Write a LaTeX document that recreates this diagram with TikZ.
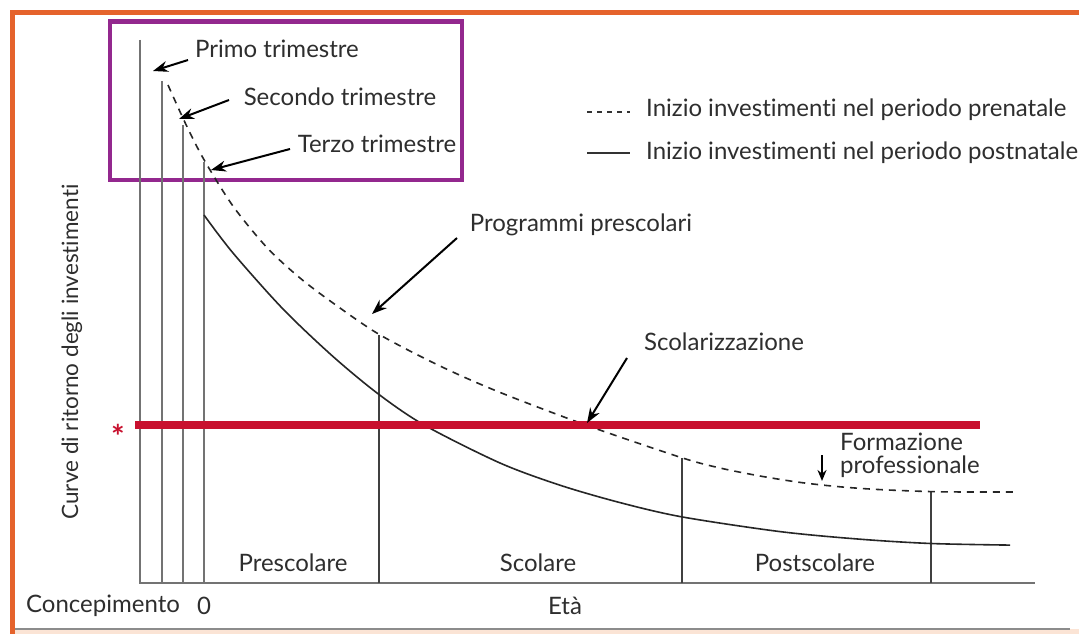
\documentclass[tikz,border=0pt]{standalone}
\usepackage{fontspec}
\setmainfont{Lato}[Ligatures=NoCommon]
\usetikzlibrary{arrows.meta}
\definecolor{frameorange}{HTML}{E5632C}
\definecolor{boxpurple}{HTML}{93288E}
\definecolor{levelred}{HTML}{C8102E}
\definecolor{stripfill}{HTML}{FBE4D5}
\definecolor{inkgray}{HTML}{2E2E2E}
\tikzset{
  lbl/.style={inner sep=0pt, text=inkgray, font=\fontsize{24}{27}\selectfont},
  guide/.style={draw=black!55, line width=1.6pt},
  divider/.style={draw=black!75, line width=1.1pt},
  postcurve/.style={draw=black!85, line width=1.6pt},
  precurve/.style={draw=black!85, line width=1.6pt, dash pattern=on 7pt off 6pt},
  pointer/.style={draw=black, line width=2pt, -{Stealth[length=15pt,width=11pt]}},
  smallpointer/.style={draw=black, line width=2pt, -{Stealth[length=11pt,width=9pt]}}
}
\begin{document}
\begin{tikzpicture}[x=1pt,y=-1pt]
\useasboundingbox (0,0) rectangle (1079,634);
\fill[white] (0,0) rectangle (1079,634);

% outer frame and footer strip
\fill[stripfill] (12,629) rectangle (1079,634);
\draw[black!45, line width=1.5pt] (15,629) -- (1070,629);
\draw[frameorange, line width=5pt] (12.5,634) -- (12.5,12.5) -- (1079,12.5);

% highlight box around the trimesters
\draw[boxpurple, line width=4.5pt] (110,21.5) rectangle (462,180);

% axes
\coordinate (o) at (140,583);
\coordinate (ytop) at (140,40);
\coordinate (xend) at (1035,583);
\draw[guide] (ytop) -- (o) -- (xend);

% trimester and birth markers
\coordinate (t1b) at (162,583); \coordinate (t1t) at (162,81);
\coordinate (t2b) at (183,583); \coordinate (t2t) at (183,125);
\coordinate (t3b) at (204,583); \coordinate (t3t) at (204,162);
\draw[guide] (t1b) -- (t1t);
\draw[guide] (t2b) -- (t2t);
\draw[guide] (t3b) -- (t3t);

% stage dividers
\coordinate (d1b) at (379,583); \coordinate (d1t) at (379,335);
\coordinate (d2b) at (682,583); \coordinate (d2t) at (682,458);
\coordinate (d3b) at (931,583); \coordinate (d3t) at (931,492);
\draw[divider] (d1b) -- (d1t);
\draw[divider] (d2b) -- (d2t);
\draw[divider] (d3b) -- (d3t);

% return curves
\draw[precurve] plot[smooth, tension=0.5] coordinates {
  (168,85) (186,124.6) (204,159.7) (233,206.1) (267,247.6) (300,278)
  (333,303) (379,334.3) (440,366) (500,392.4) (588,425.8) (682,457.8)
  (720,468) (760,476) (800,482.4) (840,486.8) (880,489.6) (931,491.6)
  (970,492) (1015,492)};
\draw[postcurve] plot[smooth, tension=0.5] coordinates {
  (204,215) (233,253) (283,309) (333,356.5) (379,394.5) (425,425.5)
  (500,463) (560,485.2) (620,502.6) (682,516.9) (780,531.6) (860,539.2)
  (931,543.5) (1010,545.1)};

% cost of capital level
\coordinate (rl) at (135,425);
\coordinate (rr) at (980,425);
\draw[levelred, line width=8pt] (rl) -- (rr);
\node[lbl, text=levelred, anchor=base, font=\fontsize{32}{32}\bfseries] (star) at (118,448) {*};

% legend
\coordinate (lg1a) at (587,112); \coordinate (lg1b) at (630,112);
\coordinate (lg2a) at (587,153); \coordinate (lg2b) at (630,153);
\draw[black!80, line width=1.3pt, dash pattern=on 5pt off 5pt] (lg1a) -- (lg1b);
\draw[black!80, line width=1.3pt] (lg2a) -- (lg2b);
\node[lbl, anchor=west] (leg1) at (646,110) {Inizio investimenti nel periodo prenatale};
\node[lbl, anchor=west] (leg2) at (646,153) {Inizio investimenti nel periodo postnatale};

% annotations with pointers
\node[lbl] (primo) at (277,49) {Primo trimestre};
\node[lbl] (secondo) at (340,97) {Secondo trimestre};
\node[lbl] (terzo) at (377,144) {Terzo trimestre};
\coordinate (pa1) at (188,60);  \coordinate (pb1) at (153,71);
\coordinate (pa2) at (229,100); \coordinate (pb2) at (179,119);
\coordinate (pa3) at (290,149); \coordinate (pb3) at (211,170);
\draw[pointer] (pa1) -- (pb1);
\draw[pointer] (pa2) -- (pb2);
\draw[pointer] (pa3) -- (pb3);

\node[lbl] (progr) at (581,225) {Programmi prescolari};
\coordinate (pa4) at (457,238); \coordinate (pb4) at (372,314);
\draw[pointer] (pa4) -- (pb4);

\node[lbl] (scol) at (724,342) {Scolarizzazione};
\coordinate (pa5) at (627,358); \coordinate (pb5) at (587,423);
\draw[pointer] (pa5) -- (pb5);

\node[lbl, anchor=west] (form1) at (840,442) {Formazione};
\node[lbl, anchor=west] (form2) at (840,467) {professionale};
\coordinate (pa6) at (822,455); \coordinate (pb6) at (822,481);
\draw[smallpointer] (pa6) -- (pb6);

% stage names and axis labels
\node[lbl] (pre) at (293,563) {Prescolare};
\node[lbl] (sco) at (538,563) {Scolare};
\node[lbl] (post) at (815,563) {Postscolare};
\node[lbl] (conc) at (103,606) {Concepimento};
\node[lbl] (zero) at (204,606) {0};
\node[lbl] (eta) at (565,606) {Età};
\node[lbl, rotate=90, font=\fontsize{22.5}{25}\selectfont] (ylab) at (72,352) {Curve di ritorno degli investimenti};
\end{tikzpicture}
\end{document}
